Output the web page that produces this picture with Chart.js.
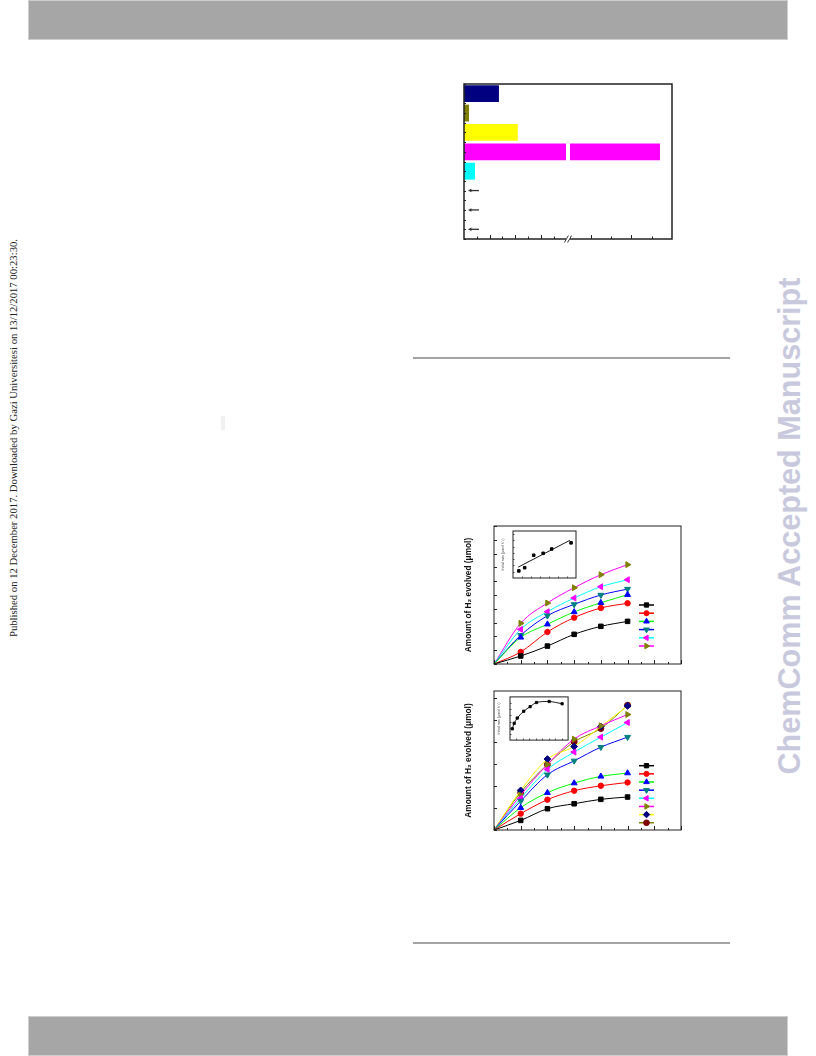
<!DOCTYPE html>
<html><head><meta charset="utf-8">
<script src="https://cdn.jsdelivr.net/npm/chart.js@4.4.1/dist/chart.umd.min.js"></script>
<style>
html,body{margin:0;padding:0;background:#fff;}
body{width:816px;height:1056px;position:relative;overflow:hidden;}
.abs{position:absolute;}
canvas{display:block;position:absolute;}
.bar{position:absolute;left:28px;width:758px;height:38px;background:#a6a6a6;border:1px solid #cfcfcf;}
.rule{position:absolute;left:413px;width:317px;height:2px;background:#a3a3a3;}
.vtext{position:absolute;white-space:nowrap;transform:translate(-50%,-50%) rotate(-90deg);}
</style></head><body>
<div class="bar" style="top:0"></div>
<div class="bar" style="top:1016px"></div>
<div class="rule" style="top:357px"></div>
<div class="rule" style="top:942px"></div>
<div class="abs" style="left:221px;top:416px;width:4px;height:14px;background:#f0f0f0"></div>
<div class="vtext" style="left:13px;top:438px;font-family:'Liberation Serif','Times New Roman',serif;font-size:10.7px;color:#222">Published on 12 December 2017. Downloaded by Gazi Universitesi on 13/12/2017 00:23:30.</div>
<div class="vtext" style="left:789px;top:526px;font-family:'Liberation Sans',Arial,sans-serif;font-weight:bold;font-size:30.6px;color:#c9c9dd">ChemComm Accepted Manuscript</div>

<canvas id="cBar" width="228" height="175" style="left:454px;top:74px"></canvas>
<canvas id="cA" width="230" height="150" style="left:459px;top:520px"></canvas>
<canvas id="cAin" width="84" height="57" style="left:497px;top:526px"></canvas>
<canvas id="cB" width="230" height="151" style="left:459px;top:685px"></canvas>
<canvas id="cBin" width="78" height="53" style="left:495px;top:692px"></canvas>

<script>
// ---------- DATA ----------
// bar chart (horizontal, broken x-axis)
const barCategories = ['S1','S2','S3','S4','S5','S6','S7','S8'];
const barValues = [2.73, 0.39, 4.2, 15.31, 0.86, 0, 0, 0];
const barArrowCategories = [5, 6, 7];
const barArrowHead = 0.31, barArrowTail = 1.17;
const barMajorTicks = [2, 4, 6, 9.9, 13.05];
const barMinorTicks = [1, 3, 5, 7, 11.45, 14.65];
const barBreak = [7.97, 8.28];

// time axis (h) for both kinetics plots
const timeH = [0, 1, 2, 3, 4, 5];
// upper kinetics plot (umol)
const a1 = [0, 5.8, 13.0, 21.5, 27.3, 30.9];
const a2 = [0, 8.7, 23.2, 33.6, 40.6, 44.0];
const a3 = [0, 19.3, 28.8, 37.7, 44.4, 50.2];
const a4 = [0, 20.8, 35.0, 43.2, 50.0, 54.3];
const a5 = [0, 25.1, 37.9, 47.8, 56.0, 61.1];
const a6 = [0, 29.5, 44.2, 55.3, 64.7, 72.0];
// upper inset (initial rate vs concentration)
const inAx = [0.65, 1.3, 2.3, 3.35, 4.3, 6.45];
const inAy = [1.13, 1.64, 3.63, 3.94, 4.63, 5.61];
const inAfitX = [0.57, 6.32];
const inAfitY = [1.73, 6.01];

// lower kinetics plot (umol)
const b1 = [0, 8.7, 19.3, 23.8, 27.8, 29.9];
const b2 = [0, 14.8, 27.5, 35.6, 40.1, 43.1];
const b3 = [0, 20.2, 33.8, 42.5, 48.6, 51.6];
const b4 = [0, 26.2, 50.1, 62.7, 75.1, 84.2];
const b5 = [0, 28.7, 54.9, 70.6, 84.2, 97.4];
const b6 = [0, 31.7, 59.4, 82.4, 94.4, 104.7];
const b7 = [0, 35.9, 64.3, 75.7, 93.8, 112.5];
const b8 = [0, 34.1, 59.4, 80.0, 92.0, 113.1];
// lower inset
const inBx = [0.35, 0.65, 1.12, 2.13, 3.12, 4.1, 6.07, 8.07];
const inBy = [1.83, 2.72, 3.57, 4.68, 5.42, 6.09, 6.26, 5.89];

// ---------- STYLES ----------
const barColors = ['#000080','#808000','#ffff00','#ff00ff','#00ffff','#000','#000','#000'];
const lineStyles = [
  {line:'#000000', pt:'#000000', style:'rect', rot:0, r:3.2},
  {line:'#ff0000', pt:'#ff0000', style:'circle', rot:0, r:2.7},
  {line:'#00ff00', pt:'#0000ff', style:'triangle', rot:0, r:3.4},
  {line:'#0000ff', pt:'#008080', style:'triangle', rot:180, r:3.4},
  {line:'#00ffff', pt:'#ff00ff', style:'triangle', rot:-90, r:3.4},
  {line:'#ff00ff', pt:'#808000', style:'triangle', rot:90, r:3.4},
  {line:'#ffff00', pt:'#000080', style:'rectRot', rot:0, r:3.4},
  {line:'#808000', pt:'#800000', style:'circle', rot:0, r:3.0}
];

function range(a, b, s){ const o=[]; for(let v=a; v<=b+1e-9; v+=s) o.push(+v.toFixed(4)); return o; }

// ---------- DECOR PLUGIN ----------
const decor = {
  id: 'decor',
  afterDatasetsDraw(chart, args, o) {
    const ctx = chart.ctx, ca = chart.chartArea;
    const xs = chart.scales.x, ys = chart.scales.y;
    ctx.save();
    if (o.breakAt) {
      const x0 = xs.getPixelForValue(o.breakAt[0]), x1 = xs.getPixelForValue(o.breakAt[1]);
      ctx.fillStyle = '#fff';
      ctx.fillRect(x0, ca.top + 1, x1 - x0, ca.bottom - ca.top - 2);
    }
    if (o.arrows) {
      ctx.strokeStyle = '#333'; ctx.fillStyle = '#333'; ctx.lineWidth = 1.3;
      o.arrows.cats.forEach(c => {
        const y = ys.getPixelForValue(c);
        const xh = xs.getPixelForValue(o.arrows.head), xt = xs.getPixelForValue(o.arrows.tail);
        ctx.beginPath(); ctx.moveTo(xt, y); ctx.lineTo(xh + 2, y); ctx.stroke();
        ctx.beginPath(); ctx.moveTo(xh, y); ctx.lineTo(xh + 3.5, y - 1.7); ctx.lineTo(xh + 3.5, y + 1.7); ctx.closePath(); ctx.fill();
      });
    }
    // ticks
    ctx.strokeStyle = o.tickColor || '#222'; ctx.lineWidth = o.tickWidth || 1;
    (o.xTicks || []).forEach(t => t.values.forEach(v => {
      const x = Math.round(xs.getPixelForValue(v)) + 0.5;
      ctx.beginPath(); ctx.moveTo(x, ca.bottom); ctx.lineTo(x, ca.bottom - t.len); ctx.stroke();
    }));
    (o.yTicks || []).forEach(t => t.values.forEach(v => {
      const y = Math.round(ys.getPixelForValue(v)) + 0.5;
      ctx.beginPath(); ctx.moveTo(ca.left, y); ctx.lineTo(ca.left + t.len, y); ctx.stroke();
    }));
    // frame
    ctx.strokeStyle = o.frameColor || '#222'; ctx.lineWidth = o.frameWidth || 1;
    ctx.strokeRect(ca.left, ca.top, ca.right - ca.left, ca.bottom - ca.top);
    if (o.breakAt) {
      const xm = (xs.getPixelForValue(o.breakAt[0]) + xs.getPixelForValue(o.breakAt[1])) / 2;
      ctx.fillStyle = '#fff'; ctx.fillRect(xm - 2, ca.bottom - 1.5, 4, 3);
      ctx.strokeStyle = '#222'; ctx.lineWidth = 0.9;
      [-1.6, 1.6].forEach(d => { ctx.beginPath(); ctx.moveTo(xm + d - 2, ca.bottom + 3.5); ctx.lineTo(xm + d + 2, ca.bottom - 3.5); ctx.stroke(); });
    }
    // legend
    if (o.legend) {
      const L = o.legend;
      chart.data.datasets.forEach((ds, i) => {
        const y = ca.bottom - L.fromBottom + i * L.gap;
        const x0 = ca.right - L.fromRight, x1 = x0 + L.len;
        ctx.strokeStyle = ds.borderColor; ctx.lineWidth = 1.5;
        ctx.beginPath(); ctx.moveTo(x0, y); ctx.lineTo(x1, y); ctx.stroke();
        ctx.fillStyle = ds.pointBackgroundColor; ctx.strokeStyle = ds.pointBackgroundColor; ctx.lineWidth = 1;
        Chart.helpers.drawPoint(ctx, {pointStyle: ds.pointStyle, rotation: ds.pointRotation, radius: ds.legendRadius, borderWidth: 1}, (x0 + x1) / 2, y);
      });
    }
    ctx.restore();
  }
};
Chart.register(decor);
Chart.defaults.font.family = "'Liberation Sans', Arial, sans-serif";

function lineDatasets(series) {
  return series.map((vals, i) => {
    const s = lineStyles[i];
    return {
      data: timeH.map((t, k) => ({x: t, y: vals[k]})),
      borderColor: s.line, borderWidth: 1,
      pointBackgroundColor: s.pt, pointBorderColor: s.pt, pointBorderWidth: 1,
      pointStyle: s.style, pointRotation: s.rot, legendRadius: s.r * 0.95,
      pointRadius: timeH.map((t, k) => k === 0 ? 0 : s.r),
      tension: 0.4, cubicInterpolationMode: 'monotone', clip: false
    };
  });
}

function mainOptions(ymax, ystep, legend) {
  return {
    responsive: false, animation: false, devicePixelRatio: 1,
    layout: {padding: {left: 5, top: 6, right: 8, bottom: 6}},
    plugins: {legend: {display: false}, tooltip: {enabled: false},
      decor: {
        xTicks: [{values: range(0, 7, 1), len: 4}, {values: range(0.5, 6.5, 1), len: 2}],
        yTicks: [{values: range(0, ymax, ystep), len: 3}],
        frameWidth: 1, legend: legend
      }},
    scales: {
      x: {type: 'linear', min: 0, max: 7, display: false},
      y: {type: 'linear', min: 0, max: ymax, display: true,
          grid: {display: false}, border: {display: false}, ticks: {display: false},
          title: {display: true, text: 'Amount of H₂ evolved (μmol)', color: '#111',
                  font: {family: "'Liberation Sans', 'DejaVu Sans', Arial, sans-serif", size: 8.3, weight: 'bold', lineHeight: 1.2},
                  padding: {top: 0, bottom: 0}},
          afterFit: s => { s.width = 30; }}
    }
  };
}

function insetOptions(xmax, ymax, padLeft, titlePad) {
  return {
    responsive: false, animation: false, devicePixelRatio: 1,
    layout: {padding: {left: padLeft, top: 2, right: 3, bottom: 3}},
    plugins: {legend: {display: false}, tooltip: {enabled: false},
      decor: {
        xTicks: [{values: range(1, xmax - 1, 1), len: 1.5}],
        yTicks: [{values: range(1, ymax - 0.5, 1), len: 1.5}],
        frameWidth: 1, tickWidth: 0.8
      }},
    scales: {
      x: {type: 'linear', min: 0, max: xmax, display: false},
      y: {type: 'linear', min: 0, max: ymax, display: true,
          grid: {display: false}, border: {display: false}, ticks: {display: false},
          title: {display: true, text: 'Initial rate (μmol h⁻¹)', color: '#444',
                  font: {size: 3.6, lineHeight: 1.2}, padding: {top: titlePad, bottom: 0}},
          afterFit: s => { s.width = 14; }}
    }
  };
}

// ---------- BAR CHART ----------
new Chart(document.getElementById('cBar'), {
  type: 'bar',
  data: {labels: barCategories, datasets: [{data: barValues, backgroundColor: barColors, borderWidth: 0,
         barPercentage: 0.87, categoryPercentage: 1.0}]},
  options: {
    indexAxis: 'y', responsive: false, animation: false, devicePixelRatio: 1,
    layout: {padding: 10},
    plugins: {legend: {display: false}, tooltip: {enabled: false},
      decor: {
        breakAt: barBreak,
        arrows: {cats: barArrowCategories, head: barArrowHead, tail: barArrowTail},
        xTicks: [{values: barMajorTicks, len: 4}, {values: barMinorTicks, len: 2.5}],
        yTicks: [{values: range(-0.5, 7.5, 0.5), len: 2}],
        frameWidth: 1.5
      }},
    scales: {
      x: {type: 'linear', min: 0, max: 16.25, display: false},
      y: {type: 'category', display: false}
    }
  }
});

// ---------- UPPER KINETICS ----------
new Chart(document.getElementById('cA'), {
  type: 'line',
  data: {datasets: lineDatasets([a1, a2, a3, a4, a5, a6])},
  options: mainOptions(100, 10, {fromBottom: 59, gap: 8.2, fromRight: 42, len: 15})
});
new Chart(document.getElementById('cAin'), {
  type: 'line',
  data: {datasets: [
    {data: inAx.map((x, i) => ({x, y: inAy[i]})), showLine: false, pointStyle: 'rect', pointRadius: 1.8,
     pointBackgroundColor: '#000', pointBorderColor: '#000', borderColor: '#000'},
    {data: inAfitX.map((x, i) => ({x, y: inAfitY[i]})), pointRadius: 0, borderColor: '#000', borderWidth: 0.9}
  ]},
  options: insetOptions(7, 7.5, 2, 1.9)
});

// ---------- LOWER KINETICS ----------
new Chart(document.getElementById('cB'), {
  type: 'line',
  data: {datasets: lineDatasets([b1, b2, b3, b4, b5, b6, b7, b8])},
  options: mainOptions(126, 20, {fromBottom: 64.3, gap: 8.15, fromRight: 42, len: 15})
});
new Chart(document.getElementById('cBin'), {
  type: 'line',
  data: {datasets: [
    {data: inBx.map((x, i) => ({x, y: inBy[i]})), pointStyle: 'rect', pointRadius: 1.6,
     pointBackgroundColor: '#000', pointBorderColor: '#000', borderColor: '#000', borderWidth: 0.9, tension: 0.3}
  ]},
  options: insetOptions(9, 7, 1, 0.9)
});
</script>
</body></html>
